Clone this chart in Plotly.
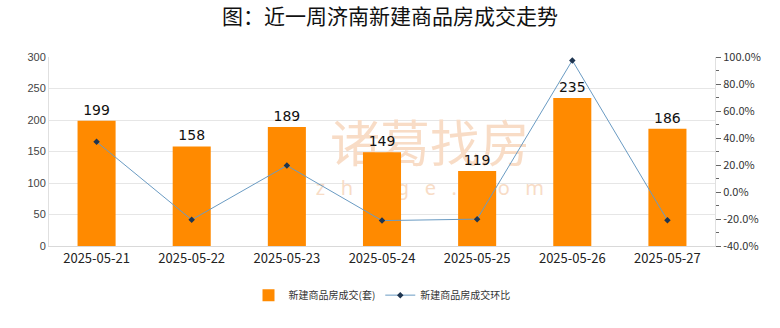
import plotly.graph_objects as go

dates = ["2025-05-21", "2025-05-22", "2025-05-23", "2025-05-24",
         "2025-05-25", "2025-05-26", "2025-05-27"]
deals = [199, 158, 189, 149, 119, 235, 186]
mom_pct = [37.2, -20.6, 19.6, -21.2, -20.1, 97.5, -20.9]

left_ticks = [0, 50, 100, 150, 200, 250, 300]
right_ticks = [-40, -20, 0, 20, 40, 60, 80, 100]
right_labels = [f"{v:.1f}%" for v in right_ticks]

fig = go.Figure()

# faint brand watermark on the base (hidden) axes, so the data sits over it
WM = "#F8DCC6"
fig.add_trace(go.Scatter(
    x=[0.572], y=[0.51], xaxis="x", yaxis="y", mode="text",
    text=["诸葛找房"], showlegend=False, hoverinfo="skip",
    textfont=dict(family="Noto Sans CJK SC", size=50, color=WM),
))
fig.add_trace(go.Scatter(
    x=[0.572], y=[0.295], xaxis="x", yaxis="y", mode="text",
    text=["z   h   u   g   e   .   c   o   m"], showlegend=False, hoverinfo="skip",
    textfont=dict(family="Noto Sans", size=20, color=WM),
))

fig.add_trace(go.Bar(
    x=dates, y=deals, name="新建商品房成交(套)", xaxis="x2", yaxis="y2",
    marker=dict(color="#FF8A00", line=dict(width=0)),
    text=[str(v) for v in deals], textposition="outside",
    textfont=dict(family="DejaVu Sans", size=14, color="#111111"),
    cliponaxis=False,
))

fig.add_trace(go.Scatter(
    x=dates, y=mom_pct, name="新建商品房成交环比", xaxis="x2", yaxis="y3",
    mode="lines+markers",
    line=dict(color="#6A9BC3", width=1),
    marker=dict(symbol="diamond", size=5, color="#1F3550"),
))

fig.update_layout(
    width=780, height=328,
    margin=dict(l=49, r=65, t=57, b=82),
    paper_bgcolor="white", plot_bgcolor="white",
    title=dict(text="图：近一周济南新建商品房成交走势", x=0.5, xanchor="center",
               y=0.95, yanchor="middle",
               font=dict(family="Noto Sans CJK SC", size=21, color="#111111")),
    bargap=0.6,
    showlegend=True,
    legend=dict(orientation="h", x=0.5, xanchor="center", y=-0.26, yanchor="middle",
                font=dict(family="Noto Sans CJK SC", size=10, color="#333333"),
                itemwidth=30),
    xaxis=dict(range=[0, 1], visible=False, fixedrange=True),
    yaxis=dict(range=[0, 1], visible=False, fixedrange=True),
    xaxis2=dict(
        type="category", overlaying="x", anchor="y2", side="bottom",
        tickfont=dict(family="Noto Sans CJK SC", size=13, color="#222222"),
        showline=True, linecolor="#D9D9D9", linewidth=1,
        ticks="", showgrid=False,
    ),
    yaxis2=dict(
        overlaying="y", anchor="x2", side="left",
        range=[0, 300], tickvals=left_ticks,
        tickfont=dict(family="Liberation Sans", size=11, color="#444444"),
        showgrid=True, gridcolor="#E6E6E6", gridwidth=1,
        showline=True, linecolor="#E0E0E0", zeroline=False,
        ticks="", ticklen=0,
    ),
    yaxis3=dict(
        overlaying="y", anchor="x2", side="right",
        range=[-40, 100], tickvals=right_ticks, ticktext=right_labels,
        tickfont=dict(family="Noto Sans CJK SC", size=11, color="#333333"),
        showgrid=False, zeroline=False,
        showline=True, linecolor="#E0E0E0",
        ticks="outside", ticklen=5, tickcolor="#666666",
        minor=dict(dtick=10, ticks="outside", ticklen=3, tickcolor="#666666"),
    ),
)

fig.write_html("out.html")
